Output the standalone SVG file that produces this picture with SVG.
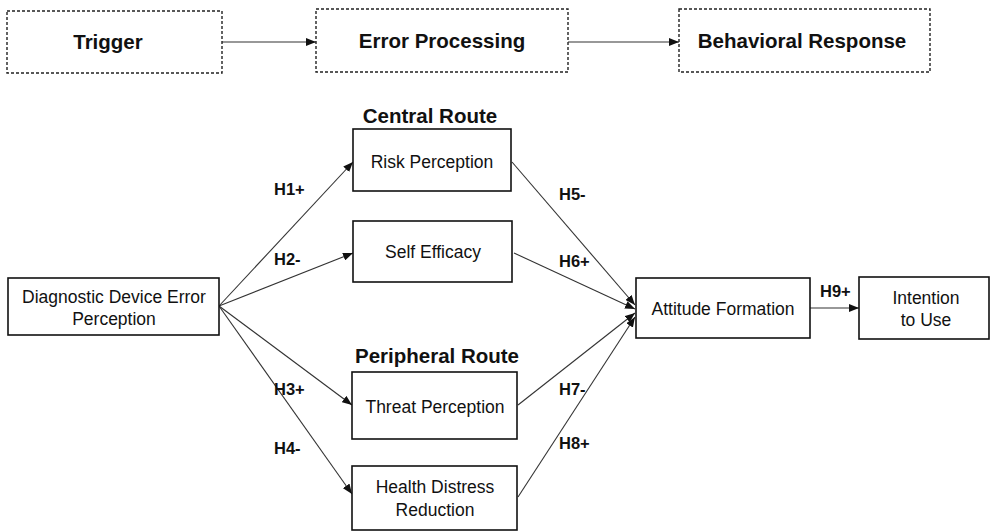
<svg xmlns="http://www.w3.org/2000/svg" width="991" height="532" viewBox="0 0 991 532">
<defs>
<marker id="ah" markerWidth="10" markerHeight="8" refX="10" refY="4" orient="auto" markerUnits="userSpaceOnUse">
<path d="M0,0 L10,4 L0,8 Z" fill="#111"/>
</marker>
<style>
.dbox{fill:#fff;stroke:#222;stroke-width:1.4;stroke-dasharray:3,2}
.box{fill:#fff;stroke:#111;stroke-width:1.6}
.t{font-family:"Liberation Sans",Arial,sans-serif;font-size:17.5px;fill:#111;text-anchor:middle}
.bt{font-family:"Liberation Sans",Arial,sans-serif;font-size:20.5px;font-weight:bold;fill:#111;text-anchor:middle}
.lb{font-family:"Liberation Sans",Arial,sans-serif;font-size:16.5px;font-weight:bold;fill:#111}
.c{stroke:#333;stroke-width:1.1;fill:none;marker-end:url(#ah)}
</style>
</defs>
<rect width="991" height="532" fill="#fff"/>
<g id="connectors">
<line class="c" x1="222" y1="42" x2="316" y2="42"/>
<line class="c" x1="568" y1="42" x2="679" y2="42"/>
<line class="c" x1="219" y1="306" x2="353" y2="162"/>
<line class="c" x1="219" y1="306" x2="353" y2="253"/>
<line class="c" x1="219" y1="306" x2="352" y2="405"/>
<line class="c" x1="219" y1="306" x2="352" y2="494"/>
<line class="c" x1="512" y1="162" x2="635" y2="305"/>
<line class="c" x1="514" y1="253" x2="635" y2="309"/>
<line class="c" x1="518" y1="405" x2="635" y2="313"/>
<line class="c" x1="518" y1="497" x2="635" y2="317"/>
<line class="c" x1="810" y1="308" x2="859" y2="308"/>
</g>
<g id="labels">
<text class="lb" x="274" y="195">H1+</text>
<text class="lb" x="274" y="265">H2-</text>
<text class="lb" x="274" y="395">H3+</text>
<text class="lb" x="274" y="454">H4-</text>
<text class="lb" x="559" y="200">H5-</text>
<text class="lb" x="559" y="267">H6+</text>
<text class="lb" x="559" y="395">H7-</text>
<text class="lb" x="559" y="449">H8+</text>
<text class="lb" x="820" y="297">H9+</text>
<text class="bt" x="430" y="123">Central Route</text>
<text class="bt" x="437" y="363">Peripheral Route</text>
</g>
<g id="trigger">
<rect class="dbox" x="7" y="11" width="215" height="62"/>
<text class="bt" x="108" y="49">Trigger</text>
</g>
<g id="error-processing">
<rect class="dbox" x="316" y="9" width="252" height="63"/>
<text class="bt" x="442" y="48">Error Processing</text>
</g>
<g id="behavioral-response">
<rect class="dbox" x="679" y="9" width="251" height="63"/>
<text class="bt" x="802" y="48">Behavioral Response</text>
</g>
<g id="diagnostic">
<rect class="box" x="8" y="278" width="211" height="57"/>
<text class="t" x="114" y="303">Diagnostic Device Error</text>
<text class="t" x="114" y="325">Perception</text>
</g>
<g id="risk">
<rect class="box" x="353" y="129" width="158" height="62"/>
<text class="t" x="432" y="168">Risk Perception</text>
</g>
<g id="self-efficacy">
<rect class="box" x="353" y="221" width="159" height="61"/>
<text class="t" x="433" y="258">Self Efficacy</text>
</g>
<g id="threat">
<rect class="box" x="352" y="372" width="165" height="67"/>
<text class="t" x="435" y="413">Threat Perception</text>
</g>
<g id="health">
<rect class="box" x="352" y="466" width="165" height="64"/>
<text class="t" x="435" y="493">Health Distress</text>
<text class="t" x="435" y="516">Reduction</text>
</g>
<g id="attitude">
<rect class="box" x="636" y="278" width="174" height="60"/>
<text class="t" x="723" y="315">Attitude Formation</text>
</g>
<g id="intention">
<rect class="box" x="859" y="277" width="130" height="62"/>
<text class="t" x="926" y="304">Intention</text>
<text class="t" x="926" y="326">to Use</text>
</g>
</svg>
